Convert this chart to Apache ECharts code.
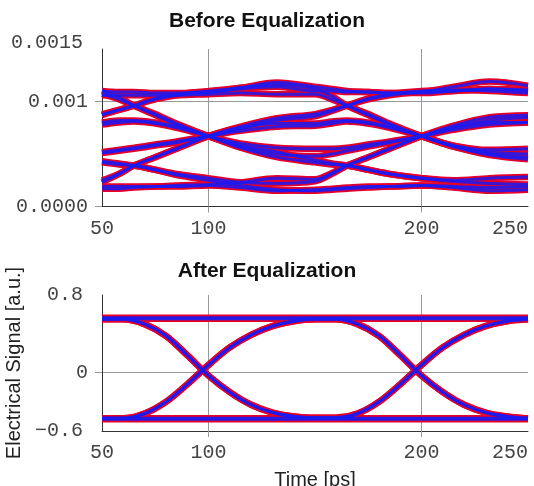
<!DOCTYPE html>
<html><head><meta charset="utf-8">
<script src="https://cdn.jsdelivr.net/npm/echarts@6/dist/echarts.min.js"></script>
<style>html,body{margin:0;padding:0;background:#fff}#c{width:534px;height:486px}</style>
</head><body><div id="c"></div>
<script>
// ---------- Before Equalization (time in ps, signal in a.u.) ----------
const timeBefore = [50,58,65,75,85,100,115,132,150,158,165,175,185,200,215,232,250];
const bAAA = [0.00110,0.00109,0.00109,0.00108,0.00108,0.00109,0.00113,0.00118,0.00114,0.00112,0.00110,0.00109,0.00108,0.00108,0.00110,0.00112,0.00110];
const bACB = [0.00107,0.00102,0.00096,0.00088,0.00079,0.00067,0.00057,0.00050,0.00048,0.00050,0.00053,0.00057,0.00061,0.00067,0.00075,0.00082,0.00085];
const bBAC = [0.00087,0.00092,0.00096,0.00103,0.00107,0.00110,0.00113,0.00116,0.00112,0.00105,0.00096,0.00087,0.00078,0.00067,0.00058,0.00054,0.00055];
const bBCD = [0.00078,0.00080,0.00081,0.00079,0.00075,0.00067,0.00058,0.00052,0.00044,0.00041,0.00039,0.00035,0.00031,0.00027,0.00024,0.00022,0.00021];
const bCBA = [0.00051,0.00053,0.00055,0.00058,0.00061,0.00067,0.00074,0.00082,0.00086,0.00091,0.00096,0.00102,0.00106,0.00109,0.00110,0.00112,0.00111];
const bCDB = [0.00042,0.00040,0.00039,0.00035,0.00031,0.00027,0.00023,0.00022,0.00024,0.00031,0.00039,0.00047,0.00055,0.00067,0.00075,0.00080,0.00080];
const bDDD = [0.00019,0.00019,0.00019,0.00019,0.00019,0.00020,0.00018,0.00015,0.00016,0.00017,0.00018,0.00019,0.00019,0.00020,0.00018,0.00015,0.00016];
const bDBC = [0.00025,0.00031,0.00039,0.00047,0.00055,0.00067,0.00075,0.00079,0.00079,0.00081,0.00082,0.00080,0.00076,0.00067,0.00058,0.00052,0.00050];
const bAAC = [0.00106,0.00106,0.00106,0.00106,0.00106,0.00107,0.00108,0.00107,0.00107,0.00102,0.00096,0.00088,0.00079,0.00067,0.00057,0.00050,0.00047];
const bBAA = [0.00088,0.00092,0.00096,0.00102,0.00106,0.00109,0.00112,0.00114,0.00110,0.00110,0.00109,0.00109,0.00108,0.00109,0.00114,0.00119,0.00115];
const bCBC = [0.00052,0.00054,0.00056,0.00059,0.00062,0.00067,0.00072,0.00076,0.00077,0.00079,0.00081,0.00079,0.00075,0.00067,0.00057,0.00049,0.00045];
const bDDB = [0.00017,0.00017,0.00018,0.00019,0.00020,0.00021,0.00023,0.00027,0.00026,0.00032,0.00039,0.00047,0.00055,0.00067,0.00077,0.00085,0.00087];
const bACD = [0.00110,0.00104,0.00096,0.00087,0.00078,0.00067,0.00056,0.00047,0.00042,0.00040,0.00039,0.00035,0.00031,0.00027,0.00025,0.00027,0.00028];
const bDBA = [0.00023,0.00031,0.00039,0.00047,0.00055,0.00067,0.00076,0.00084,0.00088,0.00092,0.00096,0.00103,0.00107,0.00110,0.00111,0.00110,0.00108];
const bBCB = [0.00080,0.00082,0.00082,0.00080,0.00076,0.00067,0.00060,0.00056,0.00055,0.00055,0.00056,0.00059,0.00062,0.00067,0.00073,0.00078,0.00080];
const bCDD = [0.00043,0.00041,0.00039,0.00035,0.00030,0.00025,0.00020,0.00016,0.00015,0.00016,0.00017,0.00018,0.00019,0.00020,0.00019,0.00018,0.00019];
const beforeTraces = [bAAA,bACB,bBAC,bBCD,bCBA,bCDB,bDDD,bDBC,bAAC,bBAA,bCBC,bDDB,bACD,bDBA,bBCB,bCDD];

// ---------- After Equalization ----------
const timeAfter = [50,60,70,80,90,100,110,120,130,140,150,160,170,180,190,200,210,220,230,240,250];
const aHHH = [0.565,0.565,0.565,0.565,0.565,0.565,0.565,0.565,0.565,0.565,0.565,0.565,0.565,0.565,0.565,0.565,0.565,0.565,0.565,0.565,0.565];
const aHHL = [0.555,0.555,0.555,0.555,0.555,0.555,0.555,0.555,0.555,0.555,0.55,0.55,0.50,0.38,0.18,-0.03,-0.20,-0.33,-0.41,-0.45,-0.47];
const aHLH = [0.55,0.55,0.50,0.38,0.18,-0.03,-0.20,-0.33,-0.41,-0.45,-0.46,-0.46,-0.42,-0.30,-0.12,0.08,0.26,0.39,0.48,0.53,0.55];
const aHLL = [0.55,0.55,0.50,0.38,0.18,-0.03,-0.20,-0.33,-0.41,-0.45,-0.47,-0.47,-0.47,-0.47,-0.47,-0.47,-0.47,-0.47,-0.47,-0.47,-0.47];
const aLHH = [-0.47,-0.47,-0.42,-0.30,-0.12,0.08,0.26,0.39,0.48,0.53,0.555,0.555,0.555,0.555,0.555,0.555,0.555,0.555,0.555,0.555,0.555];
const aLHL = [-0.47,-0.47,-0.42,-0.30,-0.12,0.08,0.26,0.39,0.48,0.53,0.55,0.55,0.50,0.38,0.18,-0.03,-0.20,-0.33,-0.41,-0.45,-0.47];
const aLLH = [-0.47,-0.47,-0.47,-0.47,-0.47,-0.47,-0.47,-0.47,-0.47,-0.47,-0.47,-0.47,-0.42,-0.30,-0.12,0.08,0.26,0.39,0.48,0.53,0.55];
const aLLL = [-0.48,-0.48,-0.48,-0.48,-0.48,-0.48,-0.48,-0.48,-0.48,-0.48,-0.48,-0.48,-0.48,-0.48,-0.48,-0.48,-0.48,-0.48,-0.48,-0.48,-0.48];
const afterTraces = [aHHH,aHHL,aHLH,aHLL,aLHH,aLHL,aLLH,aLLL];

// ---------- Axis ticks / labels ----------
const xLabelValues = [50,100,200,250];
const xGridValues = [100,200];
const topYLabelValues = [0,0.001,0.0015];
const topYLabels = ['0.0000','0.001','0.0015'];
const topYGridValues = [0,0.001];
const botYLabelValues = [-0.6,0,0.8];
const botYLabels = ['\u22120.6','0','0.8'];
const botYGridValues = [0];

const RED = '#e4002b', BLUE = '#1a1af2';
const MONO = 'Liberation Mono', SANS = 'Liberation Sans';
const LBL = '#444';

function pairs(t, v){ return t.map((x,i)=>[x, v[i]]); }
const series = [];
function addTraces(traces, times, idx){
  traces.forEach(v=>series.push({type:'line', xAxisIndex:idx, yAxisIndex:idx, data:pairs(times,v), symbol:'none', smooth:0.35, z:2, silent:true, lineStyle:{color:RED, width:6.5}}));
  traces.forEach(v=>series.push({type:'line', xAxisIndex:idx, yAxisIndex:idx, data:pairs(times,v), symbol:'none', smooth:0.35, z:3, silent:true, lineStyle:{color:BLUE, width:3, opacity:0.85}}));
}
addTraces(beforeTraces, timeBefore, 0);
addTraces(afterTraces, timeAfter, 1);

const rich = {
  n:{fontFamily:MONO, fontSize:20, color:LBL, padding:[0,5,0,0]},
  g:{fontFamily:MONO, fontSize:20, color:LBL},
  t:{fontFamily:MONO, fontSize:20, color:LBL, padding:[0,5,12,0]}
};
function yFmt(vals, labels, grids, topStyle){
  return function(v){
    const i = vals.findIndex(x=>Math.abs(x-v)<1e-9);
    if(i<0) return '';
    const onGrid = grids.some(g=>Math.abs(g-v)<1e-9);
    let st = onGrid ? 'g' : 'n';
    if(topStyle && i===vals.length-1) st = 't';
    return '{'+st+'|'+labels[i]+'}';
  };
}
function xAxis(idx, extra){
  return Object.assign({
    type:'value', gridIndex:idx, min:50, max:250, interval:50,
    axisLine:{show:true, onZero:false, lineStyle:{color:'#333', width:1}},
    axisTick:{show:true, customValues:xGridValues, length:6, lineStyle:{color:'#999'}},
    splitLine:{show:true, lineStyle:{color:'#999', width:1}},
    axisLabel:{customValues:xLabelValues, fontFamily:MONO, fontSize:20, color:LBL, margin:12, alignMaxLabel:'right'}
  }, extra||{});
}

const option = {
  animation:false,
  backgroundColor:'#fff',
  title:[
    {text:'Before Equalization', left:'center', top:11, padding:0, textStyle:{fontFamily:SANS, fontSize:21, fontWeight:'bold', color:'#111'}},
    {text:'After Equalization', left:'center', top:261, padding:0, textStyle:{fontFamily:SANS, fontSize:21, fontWeight:'bold', color:'#111'}}
  ],
  grid:[
    {left:102, right:6, top:49, height:157.5, outerBoundsMode:'none', containLabel:false},
    {left:102, right:6, top:295, height:136, outerBoundsMode:'none', containLabel:false}
  ],
  xAxis:[
    xAxis(0),
    xAxis(1, {name:'Time [ps]', nameLocation:'middle', nameGap:39, nameTextStyle:{fontFamily:SANS, fontSize:20, color:'#222'}})
  ],
  yAxis:[
    {type:'value', gridIndex:0, min:0, max:0.0015, interval:0.0005,
     axisLine:{show:true, onZero:false, lineStyle:{color:'#333', width:1}},
     axisTick:{show:true, customValues:topYGridValues, length:7, lineStyle:{color:'#999'}},
     splitLine:{show:true, lineStyle:{color:'#999', width:1}},
     axisLabel:{customValues:topYLabelValues, margin:14, formatter:yFmt(topYLabelValues, topYLabels, topYGridValues, true), rich:rich}},
    {type:'value', gridIndex:1, min:-0.6, max:0.8, interval:0.2,
     name:'Electrical Signal [a.u.]', nameLocation:'middle', nameGap:63, nameTextStyle:{fontFamily:SANS, fontSize:20, color:'#222'},
     axisLine:{show:true, onZero:false, lineStyle:{color:'#333', width:1}},
     axisTick:{show:true, customValues:botYGridValues, length:7, lineStyle:{color:'#999'}},
     splitLine:{show:true, lineStyle:{color:'#999', width:1}},
     axisLabel:{customValues:botYLabelValues, margin:14, formatter:yFmt(botYLabelValues, botYLabels, botYGridValues, false), rich:rich}}
  ],
  series:series
};
const chart = echarts.init(document.getElementById('c'), null, {renderer:'canvas'});
chart.setOption(option);
</script></body></html>
